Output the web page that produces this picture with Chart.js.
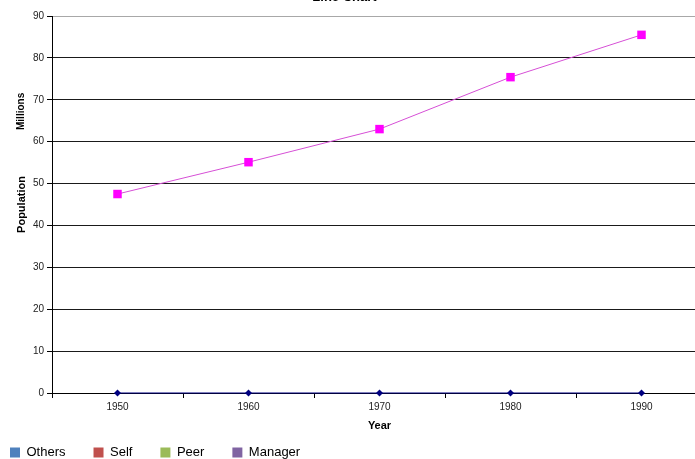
<!DOCTYPE html>
<html>
<head>
<meta charset="utf-8">
<script src="https://cdn.jsdelivr.net/npm/chart.js@4"></script>
<style>
  html, body { margin: 0; padding: 0; width: 695px; height: 459px; overflow: hidden; background: #fff; }
  #wrap { position: absolute; left: -18px; top: -20px; width: 740px; height: 489px; }
</style>
</head>
<body>
<div id="wrap"><canvas id="c" width="740" height="489"></canvas></div>
<script>
const chartTitle = 'Line Chart';
const years = ['1950', '1960', '1970', '1980', '1990'];
const population = [47.5, 55.1, 63.0, 75.4, 85.5];
const baseline = [0, 0, 0, 0, 0];
const yTicksMin = 0;
const yTicksMax = 90;
const yTicksStep = 10;
const xTitle = 'Year';
const yTitle = 'Population';
const yUnitLabel = 'Millions';
const legendNames = ['Others', 'Self', 'Peer', 'Manager'];
const legendColors = ['#4F81BD', '#C0504D', '#9BBB59', '#8064A2'];

const FONT = "'Liberation Sans', Arial, sans-serif";

const unitLabelPlugin = {
  id: 'unitLabel',
  afterDraw(chart) {
    const ctx = chart.ctx;
    const area = chart.chartArea;
    ctx.save();
    ctx.font = 'bold 10px ' + FONT;
    ctx.fillStyle = '#000';
    ctx.textAlign = 'center';
    ctx.textBaseline = 'middle';
    ctx.translate(39.5, area.top + (area.bottom - area.top) * 0.253);
    ctx.rotate(-Math.PI / 2);
    ctx.fillText(yUnitLabel, 0, 0);
    ctx.restore();
  }
};

new Chart(document.getElementById('c'), {
  type: 'line',
  data: {
    labels: years,
    datasets: [
      {
        label: 'Population',
        data: population,
        borderColor: '#D64FD6',
        borderWidth: 1,
        backgroundColor: '#FF00FF',
        pointStyle: 'rect',
        pointRadius: 6,
        pointBorderWidth: 0,
        pointBackgroundColor: '#FF00FF',
        tension: 0,
        clip: false
      },
      {
        label: 'Baseline',
        data: baseline,
        borderColor: '#000080',
        borderWidth: 1,
        backgroundColor: '#000080',
        pointStyle: 'rectRot',
        pointRadius: 3.5,
        pointBorderWidth: 0,
        pointBackgroundColor: '#000080',
        tension: 0,
        clip: false
      }
    ]
  },
  options: {
    responsive: false,
    animation: false,
    devicePixelRatio: 1,
    layout: { padding: { left: 0, right: 15, top: 0, bottom: 0 } },
    plugins: {
      tooltip: { enabled: false },
      title: {
        display: true,
        text: chartTitle,
        color: '#000',
        font: { family: FONT, size: 13, weight: 'bold' },
        padding: { top: 10, bottom: 10.4 }
      },
      legend: {
        display: true,
        position: 'bottom',
        align: 'start',
        labels: {
          boxWidth: 10,
          boxHeight: 10,
          padding: 28,
          color: '#222',
          font: { family: FONT, size: 13 },
          generateLabels: () => legendNames.map((name, i) => ({
            text: name,
            fillStyle: legendColors[i],
            strokeStyle: legendColors[i],
            lineWidth: 0,
            hidden: false,
            datasetIndex: i
          }))
        },
        onClick: () => {}
      }
    },
    scales: {
      x: {
        type: 'category',
        offset: true,
        afterFit: (s) => { s.height = 25; },
        grid: {
          display: true,
          offset: true,
          drawOnChartArea: false,
          drawTicks: true,
          tickLength: 5,
          color: '#000'
        },
        border: { display: true, color: '#000', width: 1 },
        ticks: {
          color: '#222',
          padding: 3,
          maxRotation: 0,
          font: { family: FONT, size: 10 }
        },
        title: {
          display: true,
          text: xTitle,
          color: '#000',
          font: { family: FONT, size: 11, weight: 'bold' },
          padding: { top: 6.4, bottom: -14.6 }
        }
      },
      y: {
        min: yTicksMin,
        max: yTicksMax,
        afterFit: (s) => { s.width = 70; },
        grid: {
          display: true,
          drawOnChartArea: true,
          drawTicks: true,
          tickLength: 5,
          tickColor: '#000',
          color: (c) => (c.tick && c.tick.value === yTicksMax) ? '#A8A8A8' : '#1a1a1a'
        },
        border: { display: true, color: '#000', width: 1 },
        ticks: {
          stepSize: yTicksStep,
          color: '#222',
          padding: 3,
          font: { family: FONT, size: 10 }
        },
        title: {
          display: true,
          text: yTitle,
          color: '#000',
          font: { family: FONT, size: 11, weight: 'bold' },
          padding: { top: 33, bottom: 0 }
        }
      }
    }
  },
  plugins: [unitLabelPlugin]
});
</script>
</body>
</html>
